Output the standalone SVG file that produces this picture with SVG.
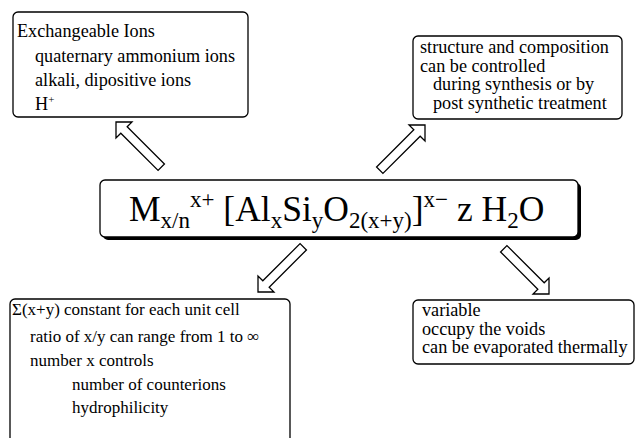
<svg xmlns="http://www.w3.org/2000/svg" width="636" height="438" viewBox="0 0 636 438">
<style>
.box{fill:#fff;stroke:#000;stroke-width:1.3}
.t{font-family:"Liberation Serif","Times New Roman",serif;fill:#000}
.s18{font-size:18.2px}
.s17{font-size:17px}
.f{font-size:35.5px}
.sb{font-size:23px}
.arr{fill:#fff;stroke:#000;stroke-width:1.3;stroke-linejoin:miter}
</style>
<defs>
<path id="ar" class="arr" d="M0,0 L-11.3,-11.3 L-11.3,-4.5 L-64,-4.5 L-64,4.5 L-11.3,4.5 L-11.3,11.3 Z"/>
</defs>
<rect width="636" height="438" fill="#fff"/>
<g id="connectors">
<use href="#ar" transform="translate(116,122) rotate(225)"/>
<use href="#ar" transform="translate(425,125) rotate(-45)"/>
<use href="#ar" transform="translate(258,292) rotate(135)"/>
<use href="#ar" transform="translate(549,294) rotate(45)"/>
</g>
<g id="ions">
<rect class="box" x="13" y="12" width="235" height="105" rx="5"/>
<text class="t s18" x="17" y="37">Exchangeable  Ions</text>
<text class="t s18" x="35" y="62">quaternary ammonium ions</text>
<text class="t s18" x="35" y="86">alkali, dipositive ions</text>
<text class="t s18" x="35" y="110">H<tspan font-size="11" dy="-7">+</tspan></text>
</g>
<g id="structure">
<rect class="box" x="413" y="36" width="209" height="83" rx="5"/>
<text class="t s18" x="420" y="53">structure and composition</text>
<text class="t s18" x="420" y="71.5">can be controlled</text>
<text class="t s18" x="433" y="90">during synthesis or by</text>
<text class="t s18" x="433" y="108.5">post synthetic treatment</text>
</g>
<g id="formula">
<rect x="103" y="183" width="478" height="57" rx="5" fill="#000"/>
<rect class="box" x="100" y="180" width="478" height="57" rx="5"/>
<text class="t f" x="129" y="221">M<tspan y="228" class="sb">x/n</tspan><tspan y="207" class="sb">x+</tspan><tspan y="221"> [Al</tspan><tspan y="228" class="sb">x</tspan><tspan y="221">Si</tspan><tspan y="228" class="sb">y</tspan><tspan y="221">O</tspan><tspan y="228" class="sb">2(x+y)</tspan><tspan y="221">]</tspan><tspan y="207" class="sb">x−</tspan><tspan y="221"> z H</tspan><tspan y="228" class="sb">2</tspan><tspan y="221">O</tspan></text>
</g>
<g id="framework">
<rect class="box" x="10" y="299" width="280" height="150" rx="5"/>
<text class="t s17" x="12" y="315">Σ(x+y) constant for each  unit cell</text>
<text class="t s17" x="30" y="342">ratio of x/y can range from 1 to ∞</text>
<text class="t s17" x="30" y="366">number x controls</text>
<text class="t s17" x="72" y="390">number of counterions</text>
<text class="t s17" x="72" y="413">hydrophilicity</text>
</g>
<g id="water">
<rect class="box" x="413" y="300" width="221" height="64" rx="5"/>
<text class="t s18" x="422" y="316">variable</text>
<text class="t s18" x="422" y="334.5">occupy the voids</text>
<text class="t s18" x="422" y="353">can be evaporated thermally</text>
</g>
</svg>
